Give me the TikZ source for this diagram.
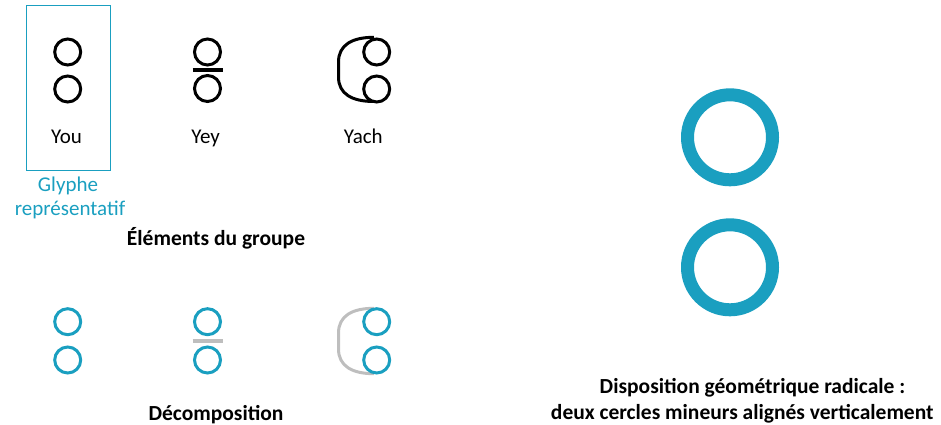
\documentclass[tikz,border=0pt]{standalone}
\usepackage{fontspec}
\setmainfont{Carlito}
\usepackage{xcolor}
\usetikzlibrary{positioning,calc}
\definecolor{teal}{RGB}{26,159,192}
\definecolor{lightgray}{RGB}{190,190,190}

\begin{document}
\begin{tikzpicture}[x=1pt,y=-1pt,
  dot/.style={circle,draw,line width=3pt,minimum size=26pt,inner sep=0pt},
  bigdot/.style={circle,draw=teal,line width=13pt,minimum size=85pt,inner sep=0pt},
  lbl/.style={font=\fontsize{21}{24}\selectfont,inner sep=0pt,anchor=base},
  ttl/.style={font=\fontsize{21.5}{26}\selectfont\bfseries,inner sep=0pt,anchor=base}]
\useasboundingbox (0,0) rectangle (941,425);
% top row: group members
\draw[teal,line width=1pt] (26.7,6) rectangle (110.7,170);
\node[dot] (you1) at (67.7,52) {};
\node[dot] (you2) at (67.7,89) {};
\node[dot] (yey1) at (207.5,52) {};
\node[dot] (yey2) at (207.5,88.5) {};
\draw[line width=3.8pt] (192.7,70.3) -- (222.7,70.3);
\node[dot] (yach1) at (376.7,52) {};
\node[dot] (yach2) at (376.7,89) {};
\draw[line width=3pt] (374,37.3) .. controls (352,37.3) and (338.5,45) .. (338.5,62) -- (338.5,77)
  .. controls (338.5,94) and (352,101.5) .. (374,101.5);
\node[lbl] (tyou) at (66.5,143.3) {You};
\node[lbl] (tyey) at (205.7,143.3) {Yey};
\node[lbl] (tyach) at (363.3,143.3) {Yach};
\node[lbl,text=teal] (rep1) at (68,191.7) {Glyphe};
\node[lbl,text=teal] (rep2) at (70,215.7) {représentatif};
\node[ttl] (grp) at (216,245) {Éléments du groupe};
% bottom row: decomposition
\draw[lightgray,line width=3pt] (374,308.3) .. controls (352,308.3) and (338.5,316) .. (338.5,333) -- (338.5,349)
  .. controls (338.5,366) and (352,373.7) .. (374,373.7);
\draw[lightgray,line width=3.8pt] (192.7,341.3) -- (222.7,341.3);
\foreach \n/\x in {a/67.7,b/207.5,c/376.7}{
  \node[dot,draw=teal] (\n1) at (\x,321.7) {};
  \node[dot,draw=teal] (\n2) at (\x,360) {};}
\node[ttl] (dec) at (216,420) {Décomposition};
% right: radical layout
\node[bigdot] (rad1) at (730,137.3) {};
\node[bigdot] (rad2) at (730,267.3) {};
\node[ttl] (disp1) at (752.5,393.3) {Disposition géométrique radicale :};
\node[ttl] (disp2) at (742.3,419.3) {deux cercles mineurs alignés verticalement};
\end{tikzpicture}
\end{document}
